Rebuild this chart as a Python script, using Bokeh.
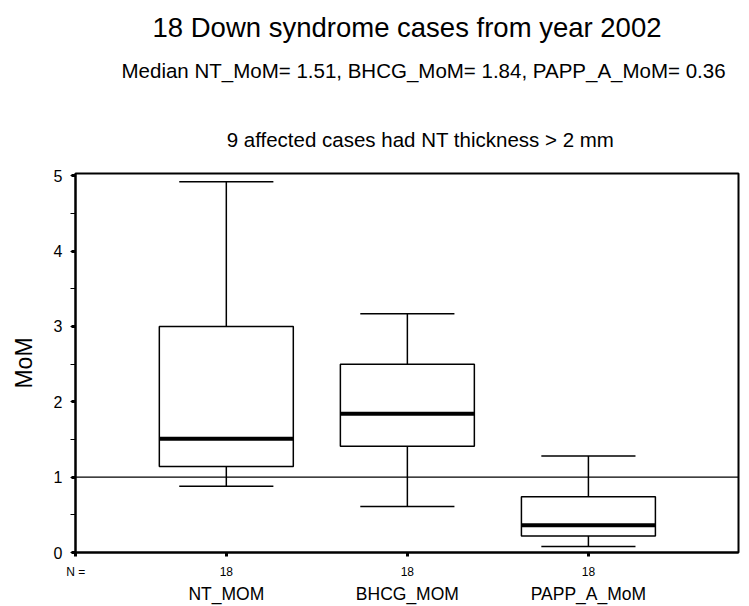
from bokeh.plotting import figure
from bokeh.layouts import column
from bokeh.models import (Range1d, LinearAxis, FixedTicker, SingleIntervalTicker,
                          Label, Span, ColumnDataSource)
from bokeh.embed import file_html
from bokeh.resources import INLINE

# ---------------- data ----------------
categories = ["NT_MOM", "BHCG_MOM", "PAPP_A_MoM"]
n_cases = [18, 18, 18]
whisker_low = [0.88, 0.61, 0.08]
q1 = [1.14, 1.41, 0.22]
median = [1.51, 1.84, 0.36]
q3 = [3.00, 2.50, 0.74]
whisker_high = [4.92, 3.17, 1.28]
reference_level = 1.0
title_lines = [
    "18 Down syndrome cases from year 2002",
    "Median NT_MoM= 1.51, BHCG_MoM= 1.84, PAPP_A_MoM= 0.36",
    "9 affected cases had NT thickness > 2 mm",
]
n_prefix = "N ="

# ---------------- layout ----------------
FONT = "Liberation Sans"
W = 749
HEAD_H = 152
MAIN_H = 606 - HEAD_H
LEFT, RIGHT = 75, 11
TOP = 173 - HEAD_H
FRAME_H = 379
BOTTOM = MAIN_H - TOP - FRAME_H
X0, X1 = 0.167, 3.829
Y0, Y1 = 0.0, 5.03

# ---- heading block (texts above the plot frame) ----
head = figure(width=W, height=HEAD_H, output_backend="svg", toolbar_location=None,
              x_range=Range1d(LEFT, W - RIGHT), y_range=Range1d(HEAD_H, 0),
              min_border_left=LEFT, min_border_right=RIGHT,
              min_border_top=0, min_border_bottom=0,
              x_axis_location=None, y_axis_location=None)
head.frame_align = False
head.xgrid.visible = False
head.ygrid.visible = False
head.outline_line_color = None
head.background_fill_color = "white"
head.border_fill_color = "white"

head.add_layout(Label(x=406.5, y=27, text=title_lines[0], text_align="center",
                      text_baseline="middle", text_font=FONT, text_font_size="27.5px",
                      text_color="black"))
head.add_layout(Label(x=121, y=69.5, text=title_lines[1], text_align="left",
                      text_baseline="middle", text_font=FONT, text_font_size="20.5px",
                      text_color="black"))
head.add_layout(Label(x=420, y=138.5, text=title_lines[2], text_align="center",
                      text_baseline="middle", text_font=FONT, text_font_size="20.5px",
                      text_color="black"))

# ---- main box plot ----
p = figure(width=W, height=MAIN_H, output_backend="svg", toolbar_location=None,
           x_range=Range1d(X0, X1), y_range=Range1d(Y0, Y1),
           min_border_left=LEFT, min_border_right=RIGHT,
           min_border_top=TOP, min_border_bottom=BOTTOM,
           x_axis_location=None, y_axis_location=None)
p.frame_align = False
p.xgrid.visible = False
p.ygrid.visible = False
p.outline_line_color = "black"
p.outline_line_width = 2
p.background_fill_color = "white"
p.border_fill_color = "white"

xs = [i + 1 for i in range(len(categories))]
BOX_HALF = 0.37
CAP_HALF = 0.26
src = ColumnDataSource(dict(
    x=xs,
    left=[x - BOX_HALF for x in xs], right=[x + BOX_HALF for x in xs],
    cap_l=[x - CAP_HALF for x in xs], cap_r=[x + CAP_HALF for x in xs],
    lo=whisker_low, q1=q1, med=median, q3=q3, hi=whisker_high,
))

p.segment(x0="x", x1="x", y0="q3", y1="hi", source=src, line_color="black", line_width=1.5)
p.segment(x0="x", x1="x", y0="q1", y1="lo", source=src, line_color="black", line_width=1.5)
p.segment(x0="cap_l", x1="cap_r", y0="hi", y1="hi", source=src, line_color="black", line_width=1.5)
p.segment(x0="cap_l", x1="cap_r", y0="lo", y1="lo", source=src, line_color="black", line_width=1.5)
p.quad(left="left", right="right", bottom="q1", top="q3", source=src,
       fill_color="white", line_color="black", line_width=1.5)
p.segment(x0="left", x1="right", y0="med", y1="med", source=src, line_color="black", line_width=4)

p.add_layout(Span(location=reference_level, dimension="width", line_color="black", line_width=1.3))

# ---------------- axes ----------------
yaxis = LinearAxis(ticker=SingleIntervalTicker(interval=1, num_minor_ticks=2),
                   axis_label="MoM")
yaxis.axis_line_color = "black"
yaxis.axis_line_width = 2
yaxis.major_tick_in = 0
yaxis.major_tick_out = 4
yaxis.major_tick_line_width = 3
yaxis.minor_tick_in = 0
yaxis.minor_tick_out = 5
yaxis.minor_tick_line_width = 1
yaxis.major_label_standoff = 8
yaxis.major_label_text_font = FONT
yaxis.major_label_text_font_size = "16px"
yaxis.major_label_text_color = "black"
yaxis.axis_label_text_font = FONT
yaxis.axis_label_text_font_size = "23px"
yaxis.axis_label_text_font_style = "normal"
yaxis.axis_label_text_color = "black"
yaxis.axis_label_standoff = 14
p.add_layout(yaxis, "left")

n_tick = X0 + 0.002
xaxis = LinearAxis(ticker=FixedTicker(ticks=[n_tick] + xs, minor_ticks=[]))
overrides = {x: str(n) for x, n in zip(xs, n_cases)}
overrides[n_tick] = n_prefix
xaxis.major_label_overrides = overrides
xaxis.axis_line_color = "black"
xaxis.axis_line_width = 2
xaxis.major_tick_in = 0
xaxis.major_tick_out = 4
xaxis.major_tick_line_width = 3
xaxis.minor_tick_line_color = None
xaxis.major_label_standoff = 8
xaxis.major_label_text_font = FONT
xaxis.major_label_text_font_size = "12px"
xaxis.major_label_text_color = "black"
p.add_layout(xaxis, "below")

xaxis2 = LinearAxis(ticker=FixedTicker(ticks=xs, minor_ticks=[]))
xaxis2.major_label_overrides = {x: c for x, c in zip(xs, categories)}
xaxis2.axis_line_color = None
xaxis2.major_tick_line_color = None
xaxis2.major_tick_in = 0
xaxis2.major_tick_out = 0
xaxis2.minor_tick_line_color = None
xaxis2.major_label_standoff = 2
xaxis2.major_label_text_font = FONT
xaxis2.major_label_text_font_size = "17.5px"
xaxis2.major_label_text_color = "black"
p.add_layout(xaxis2, "below")

layout = column(head, p, spacing=0)
open("out.html", "w").write(file_html(layout, INLINE))
